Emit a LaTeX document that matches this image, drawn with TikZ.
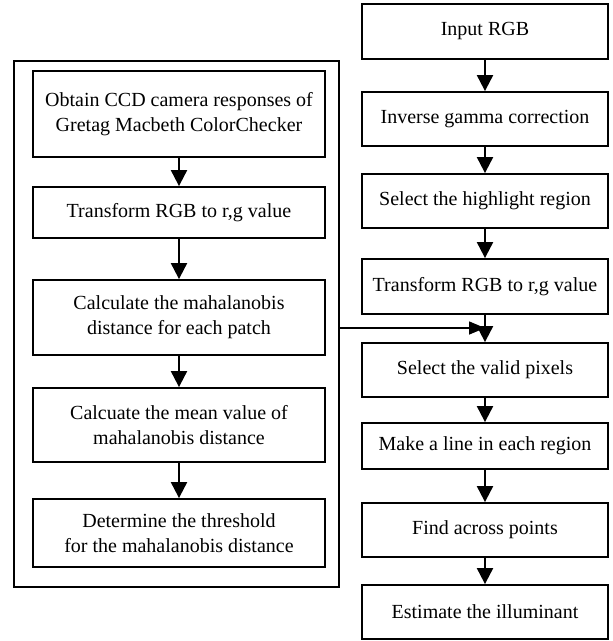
\documentclass[tikz,border=0pt]{standalone}
\usepackage{fontspec}
\setmainfont{Liberation Serif}
\usetikzlibrary{arrows.meta}
\begin{document}
\begin{tikzpicture}[x=1pt,y=-1pt,
  box/.style={draw, line width=1.8pt, align=center, inner sep=0pt, font=\fontsize{20}{25}\selectfont},
  lbox/.style={box, minimum width=292pt},
  rbox/.style={box, minimum width=246pt},
  framebox/.style={draw, line width=1.8pt, inner sep=0pt},
  arr/.style={line width=2pt, -{Triangle[length=16pt,width=16pt]}},
  harr/.style={line width=1.5pt, -{Triangle[length=16pt,width=13pt]}}]
\useasboundingbox (0,0) rectangle (613,641);
% left column
\node[framebox, minimum width=325pt, minimum height=526pt] (frame) at (176.5,324) {};
\node[lbox, minimum height=86pt] (l1) at (179,114) {Obtain CCD camera responses of\\Gretag Macbeth ColorChecker};
\node[lbox, minimum height=51pt] (l2) at (179,212.5) {Transform RGB to r,g value};
\node[lbox, minimum height=75pt] (l3) at (179,317.5) {Calculate the mahalanobis\\distance for each patch};
\node[lbox, minimum height=74pt] (l4) at (179,425) {Calcuate the mean value of\\mahalanobis distance};
\node[lbox, minimum height=68pt] (l5) at (179,533) {Determine the threshold\\for the mahalanobis distance};
% right column
\node[rbox, minimum height=55pt] (r1) at (485,31.5) {Input RGB};
\node[rbox, minimum height=54pt] (r2) at (485,119) {Inverse gamma correction};
\node[rbox, minimum height=54pt] (r3) at (485,201) {Select the highlight region};
\node[rbox, minimum height=55pt] (r4) at (485,286.5) {Transform RGB to r,g value};
\node[rbox, minimum height=54pt] (r5) at (485,370) {Select the valid pixels};
\node[rbox, minimum height=46pt] (r6) at (485,446) {Make a line in each region};
\node[rbox, minimum height=54pt] (r7) at (485,530) {Find across points};
\node[rbox, minimum height=54pt] (r8) at (485,612) {Estimate the illuminant};
% connectors
\draw[arr] (l1) -- (l2);
\draw[arr] (l2) -- (l3);
\draw[arr] (l3) -- (l4);
\draw[arr] (l4) -- (l5);
\draw[arr] (r1) -- (r2);
\draw[arr] (r2) -- (r3);
\draw[arr] (r3) -- (r4);
\draw[arr] (r4) -- (r5);
\draw[arr] (r5) -- (r6);
\draw[arr] (r6) -- (r7);
\draw[arr] (r7) -- (r8);
\coordinate (join) at (485,328);
\draw[harr] (frame.east |- join) -- (join);
\end{tikzpicture}
\end{document}
